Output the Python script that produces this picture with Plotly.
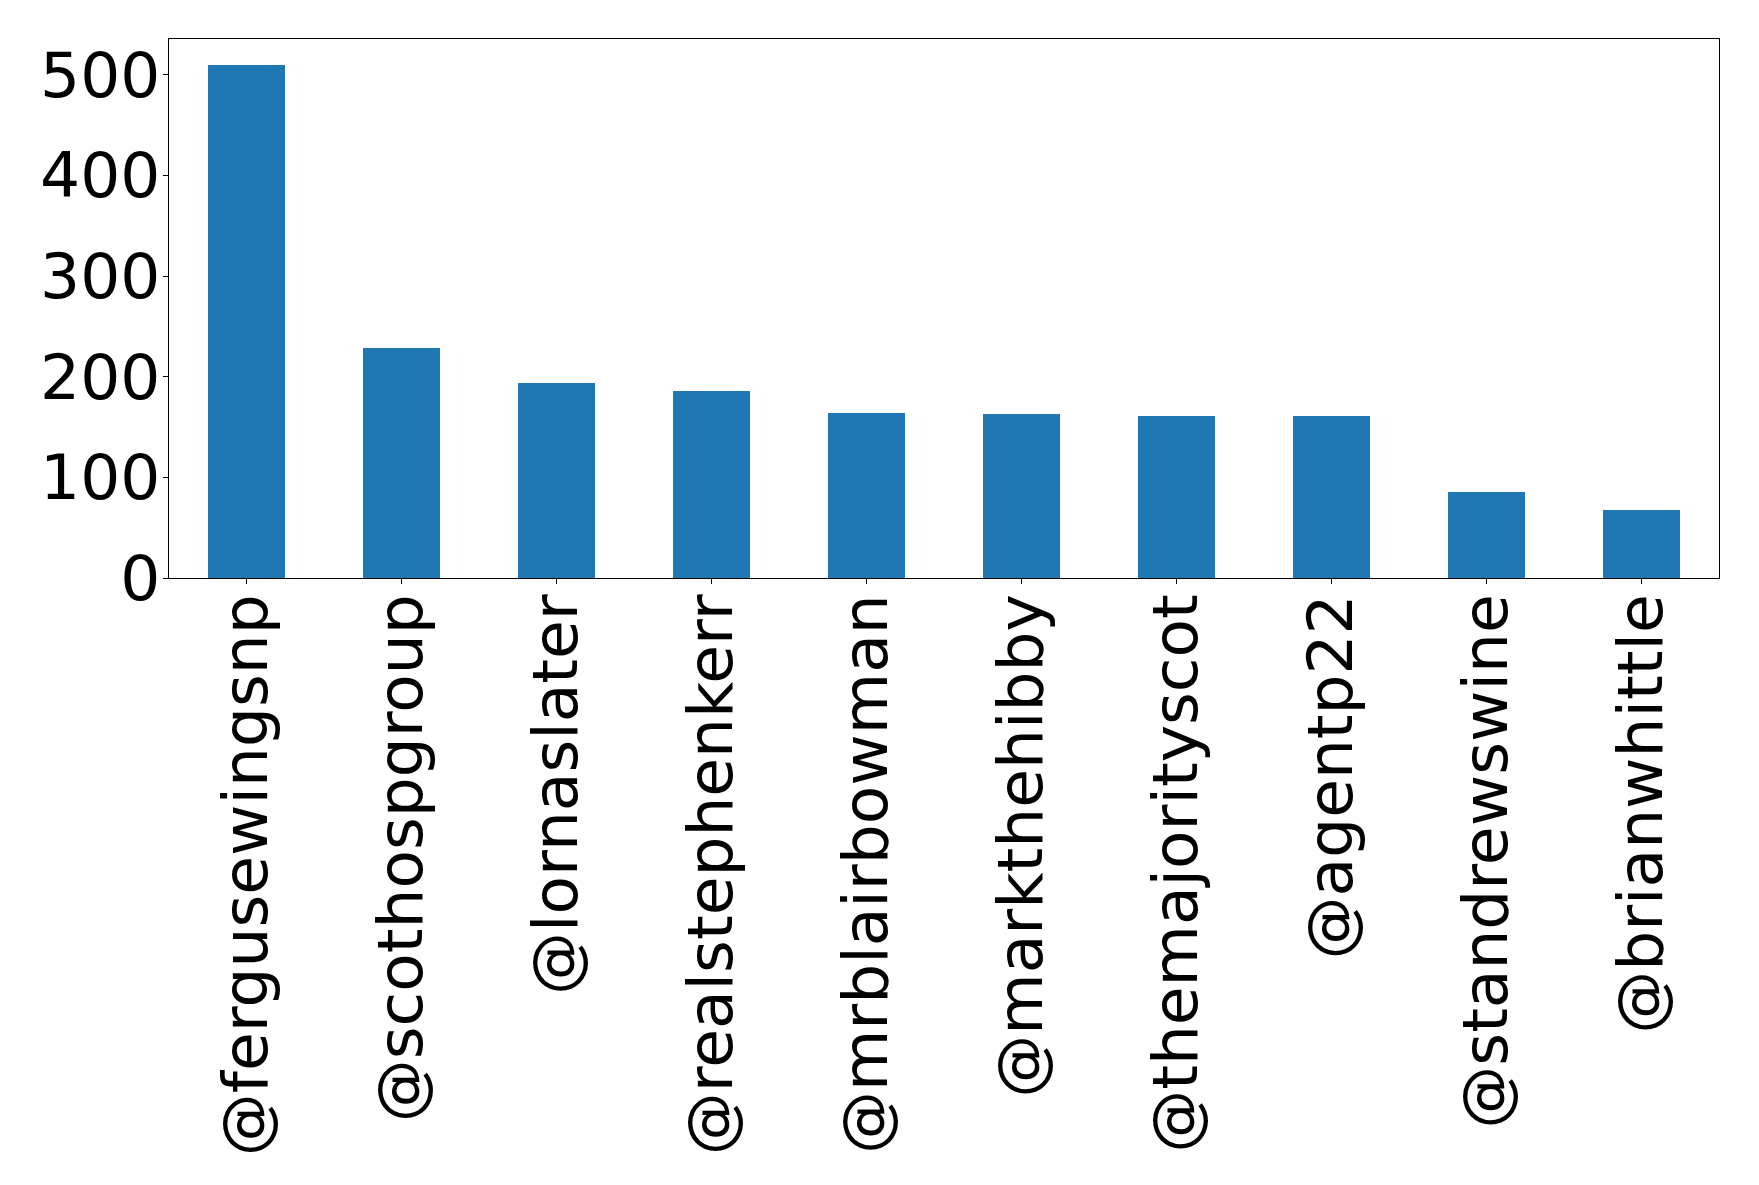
import plotly.graph_objects as go

handles = ["@fergusewingsnp", "@scothospgroup", "@lornaslater", "@realstephenkerr",
           "@mrblairbowman", "@markthehibby", "@themajorityscot", "@agentp22",
           "@standrewswine", "@brianwhittle"]
counts = [510, 229, 194, 186, 164, 163, 161, 161, 85, 68]
y_ticks = [0, 100, 200, 300, 400, 500]

fig = go.Figure(go.Bar(x=handles, y=counts, width=0.5,
                       marker=dict(color="#1f77b4", line=dict(width=0))))

font = dict(family="DejaVu Sans", size=63, color="black")
fig.update_layout(
    width=1759, height=1185,
    margin=dict(l=161, r=48, t=31, b=615),
    paper_bgcolor="white", plot_bgcolor="white",
    showlegend=False, bargap=0,
)
fig.update_xaxes(
    type="category", range=[-0.5, 9.5], tickangle=-90, tickfont=font,
    showline=True, linecolor="black", linewidth=1.2, mirror=True,
    ticks="outside", ticklen=5, tickwidth=1.2, tickcolor="black",
    showgrid=False, zeroline=False, ticklabelstandoff=-15,
)
fig.update_yaxes(
    range=[0, 535.5], tickvals=y_ticks, tickfont=font,
    showline=True, linecolor="black", linewidth=1.2, mirror=True,
    ticks="outside", ticklen=5, tickwidth=1.2, tickcolor="black",
    showgrid=False, zeroline=False, ticklabelstandoff=-10,
)
fig.write_html("out.html")
